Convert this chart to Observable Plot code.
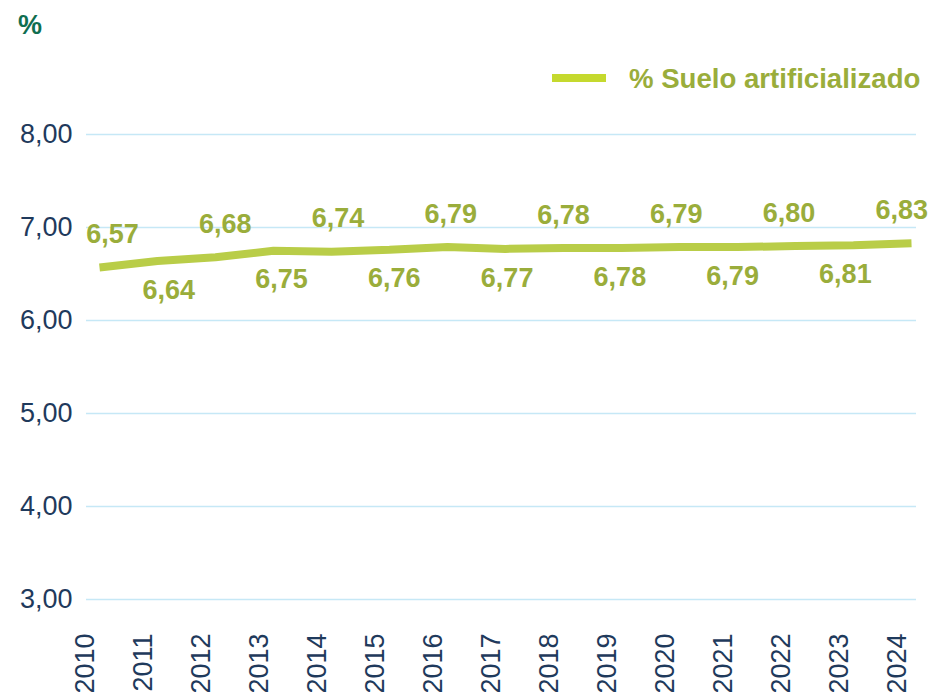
<!DOCTYPE html>
<html>
<head>
<meta charset="utf-8">
<script src="https://cdn.jsdelivr.net/npm/d3@7"></script>
<script src="https://cdn.jsdelivr.net/npm/@observablehq/plot@0.6"></script>
<style>
  html, body { margin: 0; padding: 0; background: #fff; overflow: hidden; }
  #wrap { position: relative; width: 933px; height: 692px; font-family: "Liberation Sans", Arial, sans-serif; }
  #unit { position: absolute; left: 18px; top: 12px; font-size: 27px; line-height: 27px; font-weight: bold; color: #0f6e50; }
  #legend { position: absolute; left: 552px; top: 65px; height: 27px; }
  #legend .sw { position: absolute; left: 0; top: 9px; width: 54px; height: 8px; background: #c5d92e; }
  #legend .lb { position: absolute; left: 77px; top: 0; white-space: nowrap; font-size: 27.6px; line-height: 27px; font-weight: bold; color: #9aad3b; }
  #chart { position: absolute; left: 0; top: 0; }
</style>
</head>
<body>
<div id="wrap">
  <div id="chart"></div>
  <div id="unit">%</div>
  <div id="legend"><div class="sw"></div><div class="lb">% Suelo artificializado</div></div>
</div>
<script>
const years = [2010, 2011, 2012, 2013, 2014, 2015, 2016, 2017, 2018, 2019, 2020, 2021, 2022, 2023, 2024];
const values = [6.57, 6.64, 6.68, 6.75, 6.74, 6.76, 6.79, 6.77, 6.78, 6.78, 6.79, 6.79, 6.80, 6.81, 6.83];
const yTicks = [3, 4, 5, 6, 7, 8];
const seriesName = "% Suelo artificializado";

const data = years.map((year, i) => ({year, value: values[i], i}));
const fmt = v => v.toFixed(2).replace(".", ",");

// label placement style (labels slightly drift relative to points, as in the original)
const labelShift = 0.224, labelSpread = 0.972;
const labelX = d => years[0] + labelShift + (d.year - years[0]) * labelSpread;

const above = data.filter(d => d.i % 2 === 0);
const below = data.filter(d => d.i % 2 === 1);

const chart = Plot.plot({
  width: 933,
  height: 692,
  marginTop: 134,
  marginBottom: 93,
  marginLeft: 86,
  marginRight: 17,
  style: {fontFamily: '"Liberation Sans", Arial, sans-serif', background: "transparent"},
  x: {domain: [years[0], years[years.length - 1]], insetLeft: 13, insetRight: 5},
  y: {domain: [3, 8]},
  marks: [
    Plot.gridY(yTicks, {stroke: "#c6e8f6", strokeOpacity: 1, strokeWidth: 1.5}),
    Plot.axisY(yTicks, {tickSize: 0, tickPadding: 14, tickFormat: fmt, fontSize: 27, fill: "#1f3a5c", label: null}),
    Plot.axisX(years, {tickSize: 0, tickPadding: 34, tickRotate: -90, tickFormat: d => String(d), fontSize: 27, fill: "#1f3a5c", dx: -14, label: null}),
    Plot.line(data, {x: "year", y: "value", stroke: "#b9cd48", strokeWidth: 8, strokeLinecap: "butt", strokeLinejoin: "miter"}),
    Plot.text(above, {x: labelX, y: "value", text: d => fmt(d.value), dy: -33, fontSize: 27, fontWeight: "bold", fill: "#9aad3b"}),
    Plot.text(below, {x: labelX, y: "value", text: d => fmt(d.value), dy: 29, fontSize: 27, fontWeight: "bold", fill: "#9aad3b"})
  ]
});
document.getElementById("chart").appendChild(chart);
</script>
</body>
</html>
